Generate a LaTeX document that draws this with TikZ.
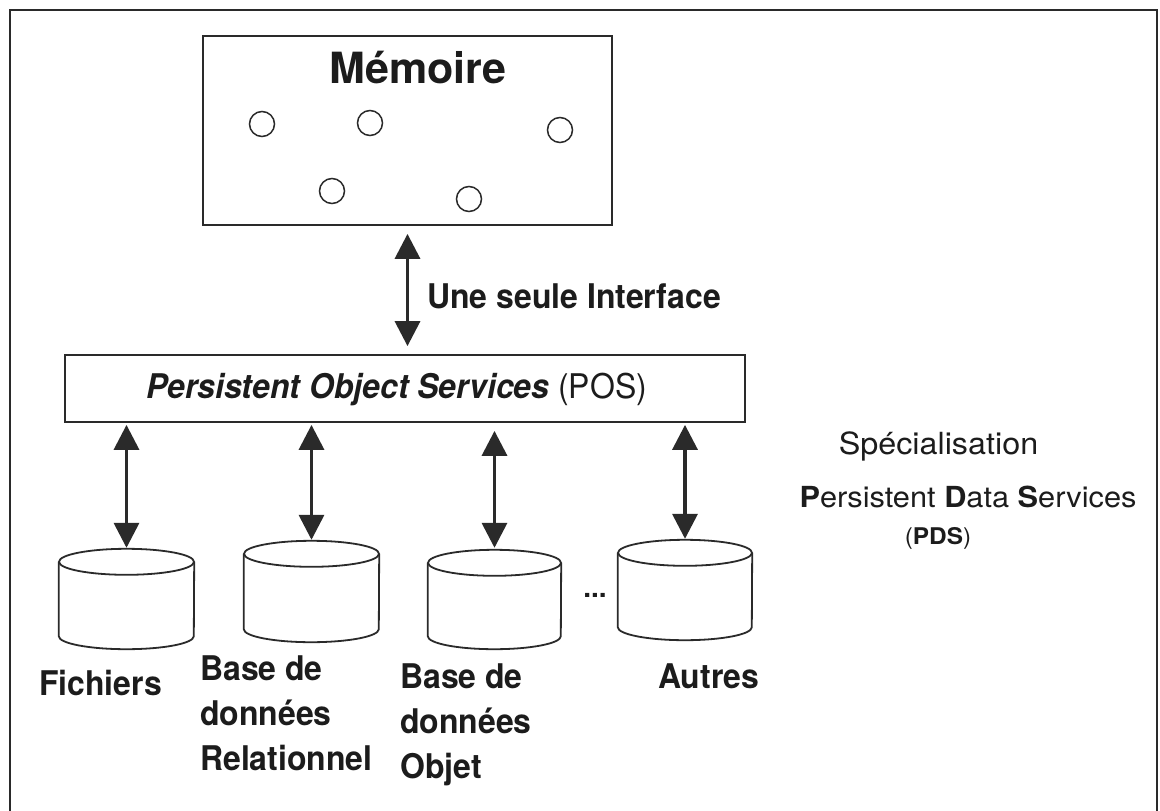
\documentclass[tikz,border=0pt]{standalone}
\usepackage{fontspec}
\setmainfont{TeX Gyre Heros}
\newfontfamily\condfont{TeX Gyre Heros}[FakeStretch=0.94]
\newfontfamily\widefont{TeX Gyre Heros}[FakeStretch=1.06]
\usetikzlibrary{arrows.meta,calc}
\definecolor{linec}{HTML}{2A2A2A}
\definecolor{textc}{HTML}{1C1C1C}
\newcommand\drawcyl[2]{%
  \draw[cylline] ([yshift=-13pt]#1.north west) -- ([yshift=13pt]#1.south west)
    arc[start angle=180,end angle=360,x radius=#2pt,y radius=13pt]
    -- ([yshift=-13pt]#1.north east);
  \draw[cylline] ([yshift=-13pt]#1.north) ellipse[x radius=#2pt,y radius=13pt];}
\begin{document}
\begin{tikzpicture}[x=1pt,y=-1pt,
  box/.style={draw=linec,line width=1.8pt,fill=white,inner sep=0pt},
  dot/.style={circle,draw=linec,line width=1.5pt,minimum size=25pt,inner sep=0pt},
  cylbox/.style={inner sep=0pt,draw=none},
  cylline/.style={draw=linec,line width=1.8pt},
  biarrow/.style={draw=linec,line width=3.5pt,{Triangle[length=25pt,width=25pt]}-{Triangle[length=25pt,width=25pt]}},
  lbl/.style={anchor=base west,inner sep=0pt,text=textc,font=\condfont\bfseries\fontsize{34}{40}\selectfont},
  rtxt/.style={anchor=base,inner sep=0pt,text=textc,font=\widefont\fontsize{29}{34}\selectfont}]
\useasboundingbox (0,0) rectangle (1160,811);
\fill[white] (0,0) rectangle (1160,811);
% outer frame
\draw[linec,line width=2.6pt] (10,811) -- (10,10) -- (1157,10) -- (1157,811);
% memory box
\node[box,minimum width=409pt,minimum height=189pt] (mem) at (407.5,130.5) {};
\node[anchor=base,inner sep=0pt,text=textc,font=\bfseries\fontsize{43}{50}\selectfont] (memtitle) at (418,83) {Mémoire};
\node[dot] (m1) at (262,124) {};
\node[dot] (m2) at (370,123) {};
\node[dot] (m3) at (560,130) {};
\node[dot] (m4) at (332,191) {};
\node[dot] (m5) at (469,199) {};
% POS box
\node[box,minimum width=680pt,minimum height=67pt] (pos) at (405,388.5) {};
\node[anchor=base,inner sep=0pt,text=textc,font=\condfont\bfseries\fontsize{34}{40}\selectfont] (postext) at (397,398) {\itshape Persistent Object Services\/ \upshape\mdseries(POS)};
% interface arrow
\draw[biarrow,shorten <=8pt,shorten >=8pt] (mem.south) -- (mem.south |- pos.north);
\node[lbl] (iface) at (427,308) {Une seule Interface};
% cylinders
\node[cylbox,minimum width=135pt,minimum height=100pt] (c1) at (126.5,599) {};
\node[cylbox,minimum width=135pt,minimum height=101pt] (c2) at (311.5,591.5) {};
\node[cylbox,minimum width=133pt,minimum height=99pt] (c3) at (494.5,599.5) {};
\node[cylbox,minimum width=134pt,minimum height=100pt] (c4) at (685,590) {};
\drawcyl{c1}{67.5}
\drawcyl{c2}{67.5}
\drawcyl{c3}{66.5}
\drawcyl{c4}{67}
% arrows POS - cylinders
\draw[biarrow,shorten <=2pt,shorten >=1pt] (pos.south -| c1.north) -- (c1.north);
\draw[biarrow,shorten <=2pt,shorten >=1pt] (pos.south -| c2.north) -- (c2.north);
\draw[biarrow,shorten <=8pt,shorten >=2pt] (pos.south -| c3.north) -- (c3.north);
\draw[biarrow,shorten <=2pt,shorten >=1pt] (pos.south -| c4.north) -- (c4.north);
\node[anchor=base,inner sep=0pt,text=textc,font=\bfseries\fontsize{28}{30}\selectfont] (dots) at (595,597) {...};
% labels
\node[lbl] (l1) at (39,695) {Fichiers};
\node[lbl] (l2a) at (200,680) {Base de};
\node[lbl] (l2b) at (200,725) {données};
\node[lbl] (l2c) at (200,770) {Relationnel};
\node[lbl] (l3a) at (400,688) {Base de};
\node[lbl] (l3b) at (400,733) {données};
\node[lbl] (l3c) at (400,778) {Objet};
\node[lbl] (l4) at (658,688) {Autres};
% right text
\node[rtxt,font=\widefont\fontsize{30.5}{34}\selectfont] (spec) at (938.5,454) {Spécialisation};
\node[rtxt] (pds) at (968,507) {\textbf{P}ersistent \textbf{D}ata \textbf{S}ervices};
\node[rtxt,font=\widefont\fontsize{23}{28}\selectfont] (pdsabbr) at (938,544) {(\textbf{PDS})};
\end{tikzpicture}
\end{document}
